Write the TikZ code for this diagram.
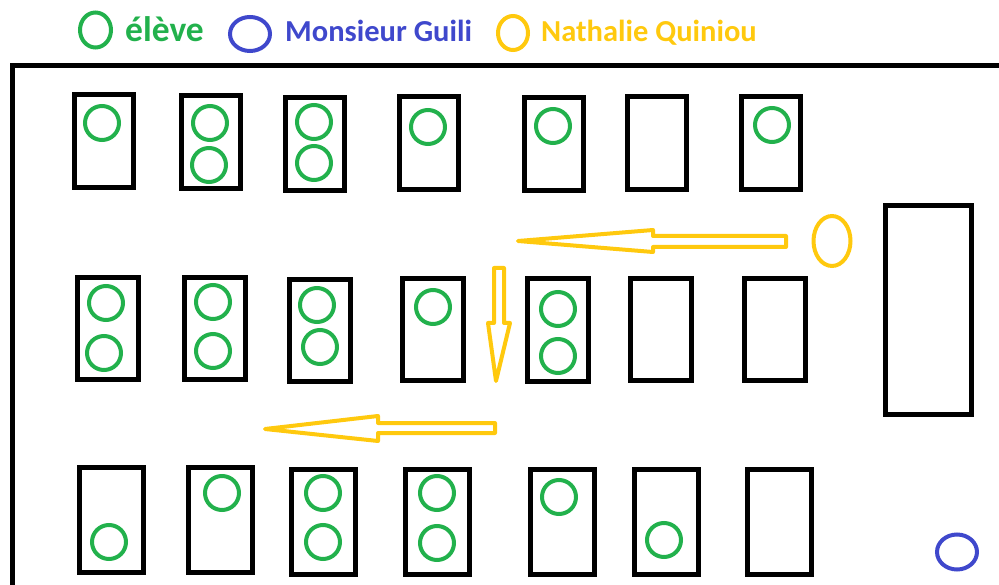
\documentclass[tikz,border=0pt]{standalone}
\usepackage{fontspec}
\setmainfont{Carlito}
\usetikzlibrary{shapes.geometric}
\definecolor{vert}{HTML}{22B14C}
\definecolor{bleu}{HTML}{3F48CC}
\definecolor{jaune}{HTML}{FFC90E}
\begin{document}
\begin{tikzpicture}[x=1pt, y=-1pt,
    desk/.style={rectangle, draw, line width=5pt, inner sep=0pt},
    rangun/.style={desk, minimum width=59pt, minimum height=93pt},
    rangdeux/.style={desk, minimum width=61pt, minimum height=102pt},
    rangtrois/.style={desk, minimum width=64pt, minimum height=105pt},
    eleve/.style={circle, draw=vert, line width=4pt, minimum size=34pt, inner sep=0pt},
    rond/.style={ellipse, line width=4pt, inner sep=0pt},
    legende/.style={anchor=base west, inner sep=0pt, font=\bfseries\fontsize{30.5}{33}\selectfont}]
  \useasboundingbox (0,0) rectangle (999,585);

  % Legend
  \node[rond, draw=vert, minimum width=31pt, minimum height=35pt] at (95.5, 30) (lgeleve) {};
  \node[legende, text=vert, font=\bfseries\fontsize{35.5}{38}\selectfont] at (125, 42) (txteleve) {élève};
  \node[rond, draw=bleu, minimum width=40pt, minimum height=34pt] at (250, 34) (lgguili) {};
  \node[legende, text=bleu] at (285, 42) (txtguili) {Monsieur Guili};
  \node[rond, draw=jaune, minimum width=30pt, minimum height=34pt] at (513, 33) (lgquiniou) {};
  \node[legende, text=jaune] at (541, 42) (txtquiniou) {Nathalie Quiniou};

  % Walls
  \coordinate (murbas) at (12, 590);
  \coordinate (coin) at (12, 65.5);
  \coordinate (murdroit) at (1004, 65.5);
  \draw[line width=5pt] (murbas) -- (coin) -- (murdroit);

  % Desks, first row
  \node[rangun] at (103.5, 141.5) (a1) {};
  \node[rangun] at (211, 142) (a2) {};
  \node[rangun] at (315, 144.5) (a3) {};
  \node[rangun] at (428.5, 143) (a4) {};
  \node[rangun] at (554, 144) (a5) {};
  \node[rangun] at (657, 143) (a6) {};
  \node[rangun] at (770.5, 143.5) (a7) {};

  % Desks, second row
  \node[rangdeux] at (107.5, 328.5) (b1) {};
  \node[rangdeux] at (215, 328.5) (b2) {};
  \node[rangdeux] at (319.5, 330.5) (b3) {};
  \node[rangdeux] at (433, 329.5) (b4) {};
  \node[rangdeux] at (558, 330) (b5) {};
  \node[rangdeux] at (660.5, 329.5) (b6) {};
  \node[rangdeux] at (774.5, 329.5) (b7) {};

  % Desks, third row
  \node[rangtrois] at (111.5, 519.5) (c1) {};
  \node[rangtrois] at (220, 519.5) (c2) {};
  \node[rangtrois] at (323.5, 522) (c3) {};
  \node[rangtrois] at (437.5, 521.5) (c4) {};
  \node[rangtrois] at (562.5, 522) (c5) {};
  \node[rangtrois] at (666, 521.5) (c6) {};
  \node[rangtrois] at (779, 521.5) (c7) {};

  % Teacher's desk
  \node[desk, minimum width=86pt, minimum height=209pt] at (928.5, 310) (bureau) {};

  % Pupils
  \node[eleve] at (102, 123) (ea1) {};
  \node[eleve] at (210, 123) (ea2) {};
  \node[eleve] at (209, 165) (eb2) {};
  \node[eleve] at (314, 122) (ea3) {};
  \node[eleve] at (314, 163) (eb3) {};
  \node[eleve] at (428, 127) (ea4) {};
  \node[eleve] at (553, 126) (ea5) {};
  \node[eleve] at (772, 125) (ea7) {};

  \node[eleve] at (106, 303) (fa1) {};
  \node[eleve] at (104, 353) (fb1) {};
  \node[eleve] at (213, 302) (fa2) {};
  \node[eleve] at (213, 351) (fb2) {};
  \node[eleve] at (317, 305) (fa3) {};
  \node[eleve] at (320, 347) (fb3) {};
  \node[eleve] at (433, 307) (fa4) {};
  \node[eleve] at (558, 309) (fa5) {};
  \node[eleve] at (558, 356) (fb5) {};

  \node[eleve] at (109, 542) (ga1) {};
  \node[eleve] at (222, 493) (ga2) {};
  \node[eleve] at (323, 493) (ga3) {};
  \node[eleve] at (323, 542) (gb3) {};
  \node[eleve] at (437, 493) (ga4) {};
  \node[eleve] at (437, 543) (gb4) {};
  \node[eleve] at (559, 497) (ga5) {};
  \node[eleve] at (664, 540) (ga6) {};

  % Nathalie Quiniou and Monsieur Guili
  \node[rond, draw=jaune, minimum width=37pt, minimum height=50pt] at (832, 241) (quiniou) {};
  \node[rond, draw=bleu, minimum width=40pt, minimum height=35pt] at (957, 552) (guili) {};

  % Path of Nathalie Quiniou
  \draw[draw=jaune, line width=4pt, line join=round] (518, 241) -- (653, 230) -- (653, 236) -- (786, 236)
    -- (786, 247) -- (653, 247) -- (653, 252) -- cycle;
  \draw[draw=jaune, line width=4pt, line join=round] (496, 381) -- (488, 323) -- (494, 323) -- (494, 268)
    -- (504, 268) -- (504, 323) -- (510, 323) -- cycle;
  \draw[draw=jaune, line width=4pt, line join=round] (265, 429) -- (378, 416) -- (378, 423) -- (495, 423)
    -- (495, 433) -- (378, 433) -- (378, 441) -- cycle;
\end{tikzpicture}
\end{document}
